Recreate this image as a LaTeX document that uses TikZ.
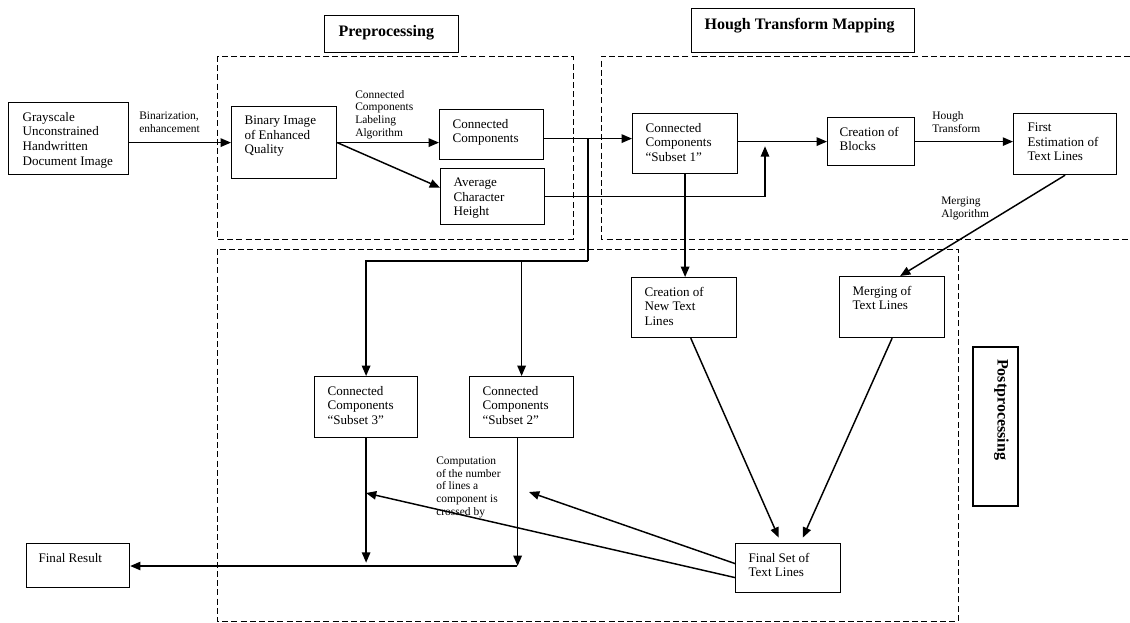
\documentclass[tikz,border=0pt]{standalone}
\usepackage{fontspec}
\setmainfont{Liberation Serif}
\usetikzlibrary{arrows.meta,calc}
\newdimen\pxu \pxu=0.75pt
\newcommand\bx[4][9.75pt]{\begin{minipage}[t][#3\pxu][t]{#2\pxu}\vspace*{7pt}\raggedright\leftskip=#1\relax #4\par\end{minipage}}
\begin{document}
\begin{tikzpicture}[x=0.75pt,y=-0.75pt,
  box/.style={draw, line width=0.9pt, inner sep=0pt, anchor=north west, font=\fontsize{9.8}{11}\selectfont},
  titlebox/.style={draw, line width=0.9pt, inner sep=0pt, anchor=north west, font=\fontsize{12}{14}\selectfont\bfseries},
  lbl/.style={anchor=north west, inner sep=0pt, align=left, font=\fontsize{8.6}{9.5}\selectfont},
  region/.style={line width=0.7pt, dash pattern=on 4.5pt off 2.4pt},
  arr/.style={line width=1.1pt, -{Triangle[length=7.7pt,width=6.3pt]}},
  ln/.style={line width=0.8pt}]
\useasboundingbox (0,0) rectangle (1130,622);
% dashed regions
\draw[region] (217,56) rectangle (573,239);
\draw[region] (1130,56) -- (601,56) -- (601,239) -- (1130,239);
\draw[region] (217,249) rectangle (958,621);
% titles
\node[titlebox] (tpre) at (324,15) {\bx[10.5pt]{134}{37}{Preprocessing}};
\node[titlebox] (thou) at (691,8) {\bx{223}{44}{Hough Transform Mapping}};
\node[titlebox, rotate=-90, anchor=center] (tpost) at (995.5,426.5) {\bx[9pt]{159}{45}{Postprocessing}};
% boxes
\node[box] (g) at (8,102) {\bx[10.5pt]{120}{72}{Grayscale\\Unconstrained\\Handwritten\\Document Image}};
\node[box] (bin) at (231,106) {\bx{105}{72}{Binary Image\\of Enhanced\\Quality}};
\node[box] (cc) at (439,109) {\bx{104}{50}{Connected\\Components}};
\node[box] (ach) at (440,168) {\bx{104}{56}{Average\\Character\\Height}};
\node[box] (s1) at (632,113) {\bx{105}{60}{Connected\\Components\\“Subset 1”}};
\node[box] (cb) at (827,117) {\bx[9pt]{87}{48}{Creation of\\Blocks}};
\node[box] (fe) at (1013,113) {\bx[10.5pt]{103}{61}{First\\Estimation of\\Text Lines}};
\node[box] (cn) at (631,277) {\bx{105}{60}{Creation of\\New Text\\Lines}};
\node[box] (mt) at (839,276) {\bx{105}{61}{Merging of\\Text Lines}};
\node[box] (s3) at (314,376) {\bx{103}{61}{Connected\\Components\\“Subset 3”}};
\node[box] (s2) at (469,376) {\bx{104}{61}{Connected\\Components\\“Subset 2”}};
\node[box] (fs) at (735,543) {\bx{105}{49}{Final Set of\\Text Lines}};
\node[box] (fr) at (26,543) {\bx[9pt]{103}{44}{Final Result}};
% labels
\node[lbl] (l1) at (139,111.5) {Binarization,\\enhancement};
\node[lbl] (l2) at (355,90) {Connected\\Components\\Labeling\\Algorithm};
\node[lbl] (l3) at (932,111.5) {Hough\\Transform};
\node[lbl] (l4) at (941,197) {Merging\\Algorithm};
\node[lbl] (l5) at (436,456.5) {Computation\\of the number\\of lines a\\component is\\crossed by};
% connectors
\draw[arr] (g.east |- bin.west) -- (bin.west);
\draw[arr] (bin.east) -- (bin.east -| cc.west);
\draw[arr] (bin.east) -- ([yshift=6.75pt]ach.west);
\coordinate (j1) at (588,261);
\draw[arr] ([yshift=-3pt]cc.east) -- ([yshift=-3pt]cc.east -| s1.west);
\draw[ln] ([yshift=-3pt]cc.east -| j1) -- (j1);
\draw[arr] (j1) -| (s3.north);
\draw[arr] (j1 -| s2.north) -- (s2.north);
\coordinate (j3) at (765,196);
\draw[arr] (ach.east) -- (ach.east -| j3) -- ([yshift=-3.5pt]j3 |- cb.west);
\draw[arr] (s1.east |- cb.west) -- (cb.west);
\draw[arr] (cb.east) -- (cb.east -| fe.west);
\draw[arr] (fe.south) -- ([xshift=6pt]mt.north);
\draw[arr] (s1.south) -- (s1.south |- cn.north);
\draw[arr] ([xshift=5pt]cn.south) -- ([xshift=-7pt,yshift=4pt]fs.north);
\draw[arr] (mt.south) -- ([xshift=11pt,yshift=4pt]fs.north);
\coordinate (t2) at (529,492);
\coordinate (t3) at (366,493);
\draw[arr] ([yshift=3.4pt]fs.west) -- (t2);
\draw[arr] ([yshift=-7.1pt]fs.west) -- (t3);
\coordinate (hb) at (517,566);
\draw[arr] (s3.south) -- ([yshift=2.5pt]s3.south |- hb);
\draw[arr] ([xshift=-3pt]s2.south) -- ([xshift=-3pt]s2.south |- hb);
\draw[arr] (hb) -- (hb -| fr.east);
\end{tikzpicture}
\end{document}
